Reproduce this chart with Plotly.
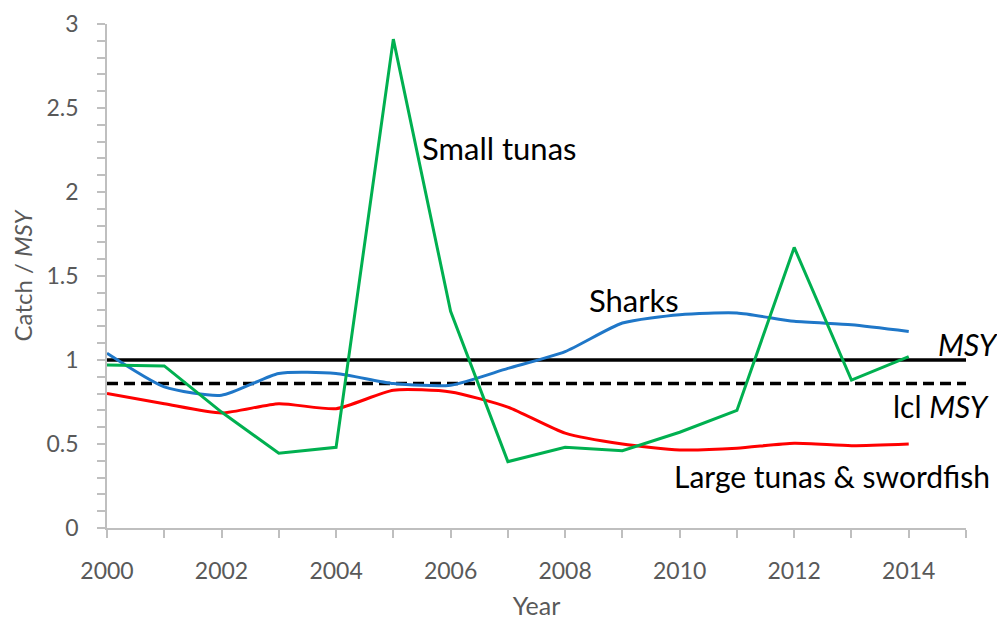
import plotly.graph_objects as go

years = list(range(2000, 2015))

sharks = [1.04, 0.84, 0.79, 0.92, 0.92, 0.86, 0.85, 0.95, 1.05, 1.22, 1.27, 1.28, 1.23, 1.21, 1.17]
large_tunas = [0.80, 0.74, 0.685, 0.74, 0.71, 0.82, 0.81, 0.72, 0.565, 0.50, 0.465, 0.475, 0.505, 0.49, 0.50]
small_tunas = [0.97, 0.965, 0.69, 0.445, 0.48, 2.91, 1.29, 0.395, 0.48, 0.46, 0.57, 0.70, 1.67, 0.88, 1.02]

msy = 1.0
lcl_msy = 0.86
ref_years = [2000, 2015]

FONT = "Lato"
GREY = "#595959"
AXIS = "#BFBFBF"

fig = go.Figure()

fig.add_trace(go.Scatter(x=ref_years, y=[msy, msy], mode="lines",
                         line=dict(color="black", width=3.5)))
fig.add_trace(go.Scatter(x=ref_years, y=[lcl_msy, lcl_msy], mode="lines",
                         line=dict(color="black", width=3.5, dash="11px,6px")))
fig.add_trace(go.Scatter(x=years, y=sharks, mode="lines",
                         line=dict(color="#1F77C8", width=3, shape="spline", smoothing=0.6)))
fig.add_trace(go.Scatter(x=years, y=large_tunas, mode="lines",
                         line=dict(color="#FF0000", width=3, shape="spline", smoothing=0.6)))
fig.add_trace(go.Scatter(x=years, y=small_tunas, mode="lines",
                         line=dict(color="#00B050", width=3)))

# series labels placed in data coordinates
for text, x, y, size in [
    ("Small tunas", 2005.46, 2.26, 31),
    ("Sharks", 2008.39, 1.36, 31),
    ("Large tunas &amp; swordfish", 2009.86, 0.31, 30),
]:
    fig.add_annotation(x=x, y=y, text=text, showarrow=False, xanchor="left",
                       font=dict(family=FONT, size=size, color="black"))

# reference line labels sit right of the plot area
for text, x, y in [
    ("<i>MSY</i>", 1.0396, 1.095),
    ("lcl <i>MSY</i>", 1.029, 0.727),
]:
    fig.add_annotation(x=x, y=y, xref="paper", text=text, showarrow=False,
                       xanchor="right", font=dict(family=FONT, size=30, color="black"))

fig.update_layout(
    width=997, height=612,
    margin=dict(l=99, r=39, t=16, b=92),
    plot_bgcolor="white", paper_bgcolor="white",
    showlegend=False,
    font=dict(family=FONT, color=GREY),
    xaxis=dict(
        range=[2000, 2015], tick0=2000, dtick=2, automargin=False,
        ticks="outside", ticklen=8, tickcolor=AXIS, tickwidth=1.5,
        minor=dict(dtick=1, ticks="outside", ticklen=8, tickcolor=AXIS, tickwidth=1.5),
        showline=True, linecolor=AXIS, linewidth=1.5,
        showgrid=False, zeroline=False,
        tickfont=dict(size=23, color=GREY), ticklabelstandoff=14,
        title=dict(text="Year", font=dict(size=25, color=GREY), standoff=14),
    ),
    yaxis=dict(
        range=[0, 3], dtick=0.5, automargin=False,
        ticks="outside", ticklen=8, tickcolor=AXIS, tickwidth=1.5,
        minor=dict(dtick=0.1, ticks="outside", ticklen=8, tickcolor=AXIS, tickwidth=1.5),
        showline=True, linecolor=AXIS, linewidth=1.5,
        showgrid=False, zeroline=False,
        tickfont=dict(size=23, color=GREY), ticklabelstandoff=14,
        title=dict(text="Catch / <i>MSY</i>", font=dict(size=24, color=GREY), standoff=20),
    ),
)

fig.write_html("out.html")
